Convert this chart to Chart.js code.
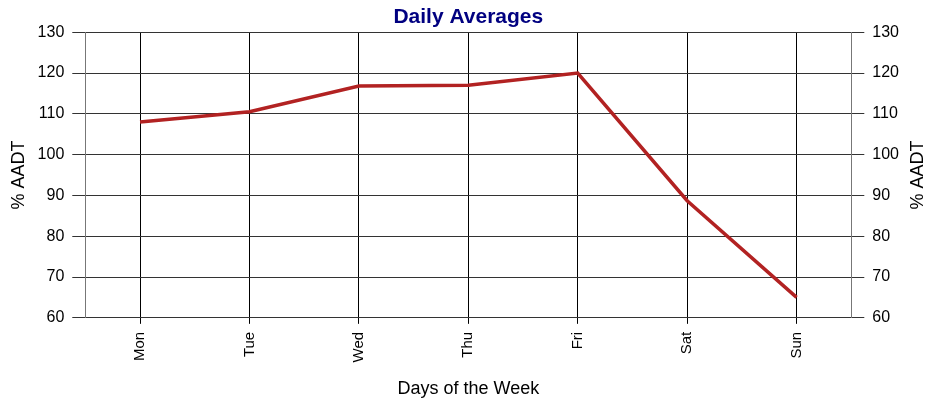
<!DOCTYPE html>
<html>
<head>
<meta charset="utf-8">
<script src="https://cdn.jsdelivr.net/npm/chart.js@4"></script>
<style>
  body { margin: 0; background: #fff; }
  #wrap { width: 927px; height: 401px; }
</style>
</head>
<body>
<div id="wrap"><canvas id="myChart" width="927" height="401"></canvas></div>
<script>
// values
var days = ["Mon", "Tue", "Wed", "Thu", "Fri", "Sat", "Sun"];
var pctAADT = [108, 110.5, 116.8, 117, 120, 88.7, 65];
var yMin = 60, yMax = 130, yStep = 10;
var yTitle = '% AADT';

var fontFamily = "'Liberation Sans', Arial, sans-serif";
Chart.defaults.font.family = fontFamily;
Chart.defaults.color = '#000';

function yAxis(side) {
    return {
        type: 'linear',
        position: side,
        min: yMin,
        max: yMax,
        ticks: { stepSize: yStep, font: { size: 16 }, padding: 8, color: '#000' },
        grid: {
            drawOnChartArea: side === 'left',
            color: '#333',
            tickLength: 13,
            lineWidth: 1
        },
        border: { color: '#777', width: 1 },
        title: {
            // right-hand title is drawn by the plugin below so it reads bottom-to-top
            display: side === 'left',
            text: yTitle,
            font: { size: 18 },
            color: '#000',
            padding: { top: 0, bottom: 0 }
        }
    };
}

// draw the right axis title rotated the same way as the left one
var rightTitle = {
    id: 'rightTitle',
    afterDraw: function(chart) {
        var c = chart.ctx;
        var s = chart.scales.y2;
        c.save();
        c.translate(918, (s.top + s.bottom) / 2);
        c.rotate(-Math.PI / 2);
        c.font = '18px ' + fontFamily;
        c.fillStyle = '#000';
        c.textAlign = 'center';
        c.textBaseline = 'middle';
        c.fillText(yTitle, 0, 0);
        c.restore();
    }
};

var ctx = document.getElementById('myChart').getContext('2d');
var chart1 = new Chart(ctx, {
    type: 'line',
    data: {
        labels: days,
        datasets: [{
            label: 'Daily Averages',
            data: pctAADT,
            borderColor: '#B22222',
            backgroundColor: '#B22222',
            borderWidth: 3.5,
            pointRadius: 0,
            tension: 0,
            yAxisID: 'y'
        }]
    },
    options: {
        responsive: false,
        animation: false,
        layout: { padding: { top: 0, right: 20, bottom: 0, left: 8 } },
        plugins: {
            legend: { display: false },
            tooltip: { enabled: false },
            title: {
                display: true,
                fullSize: false,
                text: 'Daily Averages',
                color: '#000080',
                font: { size: 21, weight: 'bold' },
                padding: { top: 5, bottom: 2 }
            }
        },
        scales: {
            x: {
                offset: true,
                grid: { offset: false, color: '#000', tickLength: 6 },
                border: { color: '#333' },
                ticks: { minRotation: 90, maxRotation: 90, font: { size: 15 }, padding: 8, color: '#000' },
                title: {
                    display: true,
                    text: 'Days of the Week',
                    font: { size: 18 },
                    color: '#000',
                    padding: { top: 8, bottom: 1 }
                }
            },
            y: yAxis('left'),
            y2: yAxis('right')
        }
    },
    plugins: [rightTitle]
});
</script>
</body>
</html>
